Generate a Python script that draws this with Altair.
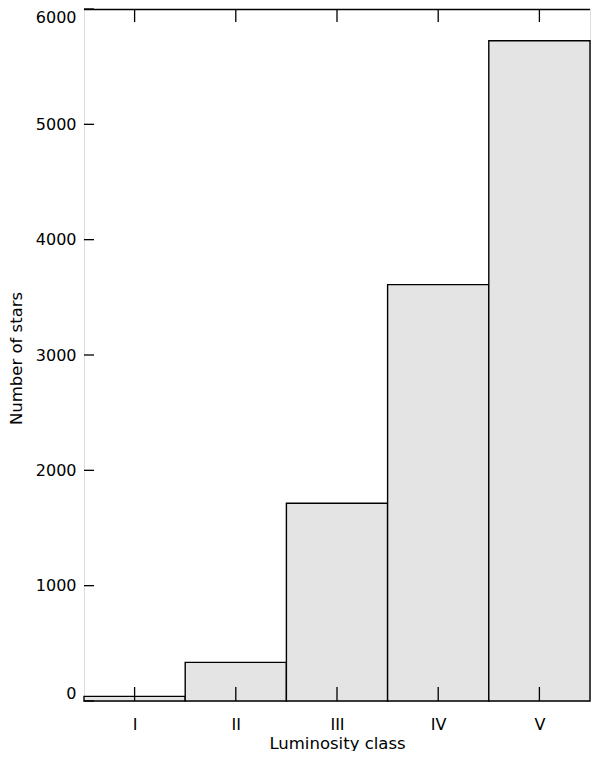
import altair as alt
import pandas as pd

classes = ["I", "II", "III", "IV", "V"]
counts = [40, 335, 1715, 3610, 5725]
y_ticks = [0, 1000, 2000, 3000, 4000, 5000, 6000]

W, H = 506, 692

bars = pd.DataFrame({
    "lo": [i for i in range(len(classes))],
    "hi": [i + 1 for i in range(len(classes))],
    "mid": [i + 0.5 for i in range(len(classes))],
    "cls": classes,
    "n": counts,
})
yt = pd.DataFrame({"v": y_ticks})
frame = pd.DataFrame({"k": [0]})

FONT = "DejaVu Sans"
label_expr = "{'0.5':'I','1.5':'II','2.5':'III','3.5':'IV','4.5':'V'}[format(datum.value, '.1f')]"

xscale = alt.Scale(domain=[0, 5], nice=False, zero=False)
yscale = alt.Scale(domain=[0, 6000], nice=False)

base = alt.Chart(bars)

bar = base.mark_rect(fill="#e4e4e4", stroke="black", strokeWidth=1.4).encode(
    x=alt.X("lo:Q", scale=xscale,
            axis=alt.Axis(values=[0.5, 1.5, 2.5, 3.5, 4.5], labelExpr=label_expr,
                          title="Luminosity class", ticks=False, domain=False,
                          labelPadding=15, labelFlush=False, labelFontSize=16,
                          titleFontSize=16.5, titleFontWeight="normal",
                          titleY=47, titleBaseline="alphabetic",
                          labelFont=FONT, titleFont=FONT, labelColor="black",
                          titleColor="black", grid=False)),
    x2="hi:Q",
    y=alt.Y("n:Q", scale=yscale,
            axis=alt.Axis(values=y_ticks, format="d", title="Number of stars", ticks=False,
                          domain=False, labelPadding=8, labelFlush=True,
                          labelFontSize=16, titleFontSize=16.5, titleFontWeight="normal",
                          labelFont=FONT, titleFont=FONT, labelColor="black",
                          titleColor="black", grid=False, titleX=-63, titleY=349,
                          titleAngle=270, titleAlign="center", titleBaseline="alphabetic")),
    y2=alt.datum(0),
)

bot_ticks = base.mark_rule(color="black", strokeWidth=1.3).encode(
    x=alt.X("mid:Q", scale=xscale), y=alt.value(H), y2=alt.value(H - 14))
top_ticks = base.mark_rule(color="black", strokeWidth=1.3).encode(
    x=alt.X("mid:Q", scale=xscale), y=alt.value(0), y2=alt.value(13))
left_ticks = alt.Chart(yt).mark_rule(color="black", strokeWidth=1.3).encode(
    y=alt.Y("v:Q", scale=yscale), x=alt.value(0), x2=alt.value(10))
top_edge = alt.Chart(frame).mark_rule(color="black", strokeWidth=1.4).encode(
    x=alt.value(0), x2=alt.value(W), y=alt.value(0.5))

chart = alt.layer(bar, bot_ticks, top_ticks, left_ticks, top_edge).properties(
    width=W, height=H,
    autosize=alt.AutoSizeParams(type="none"),
    padding={"left": 76, "top": 1, "right": 2, "bottom": 50},
).configure_view(stroke="black", strokeWidth=1.6).configure(background="white")

chart.save("out.html", embed_options={"renderer": "svg", "actions": False})
